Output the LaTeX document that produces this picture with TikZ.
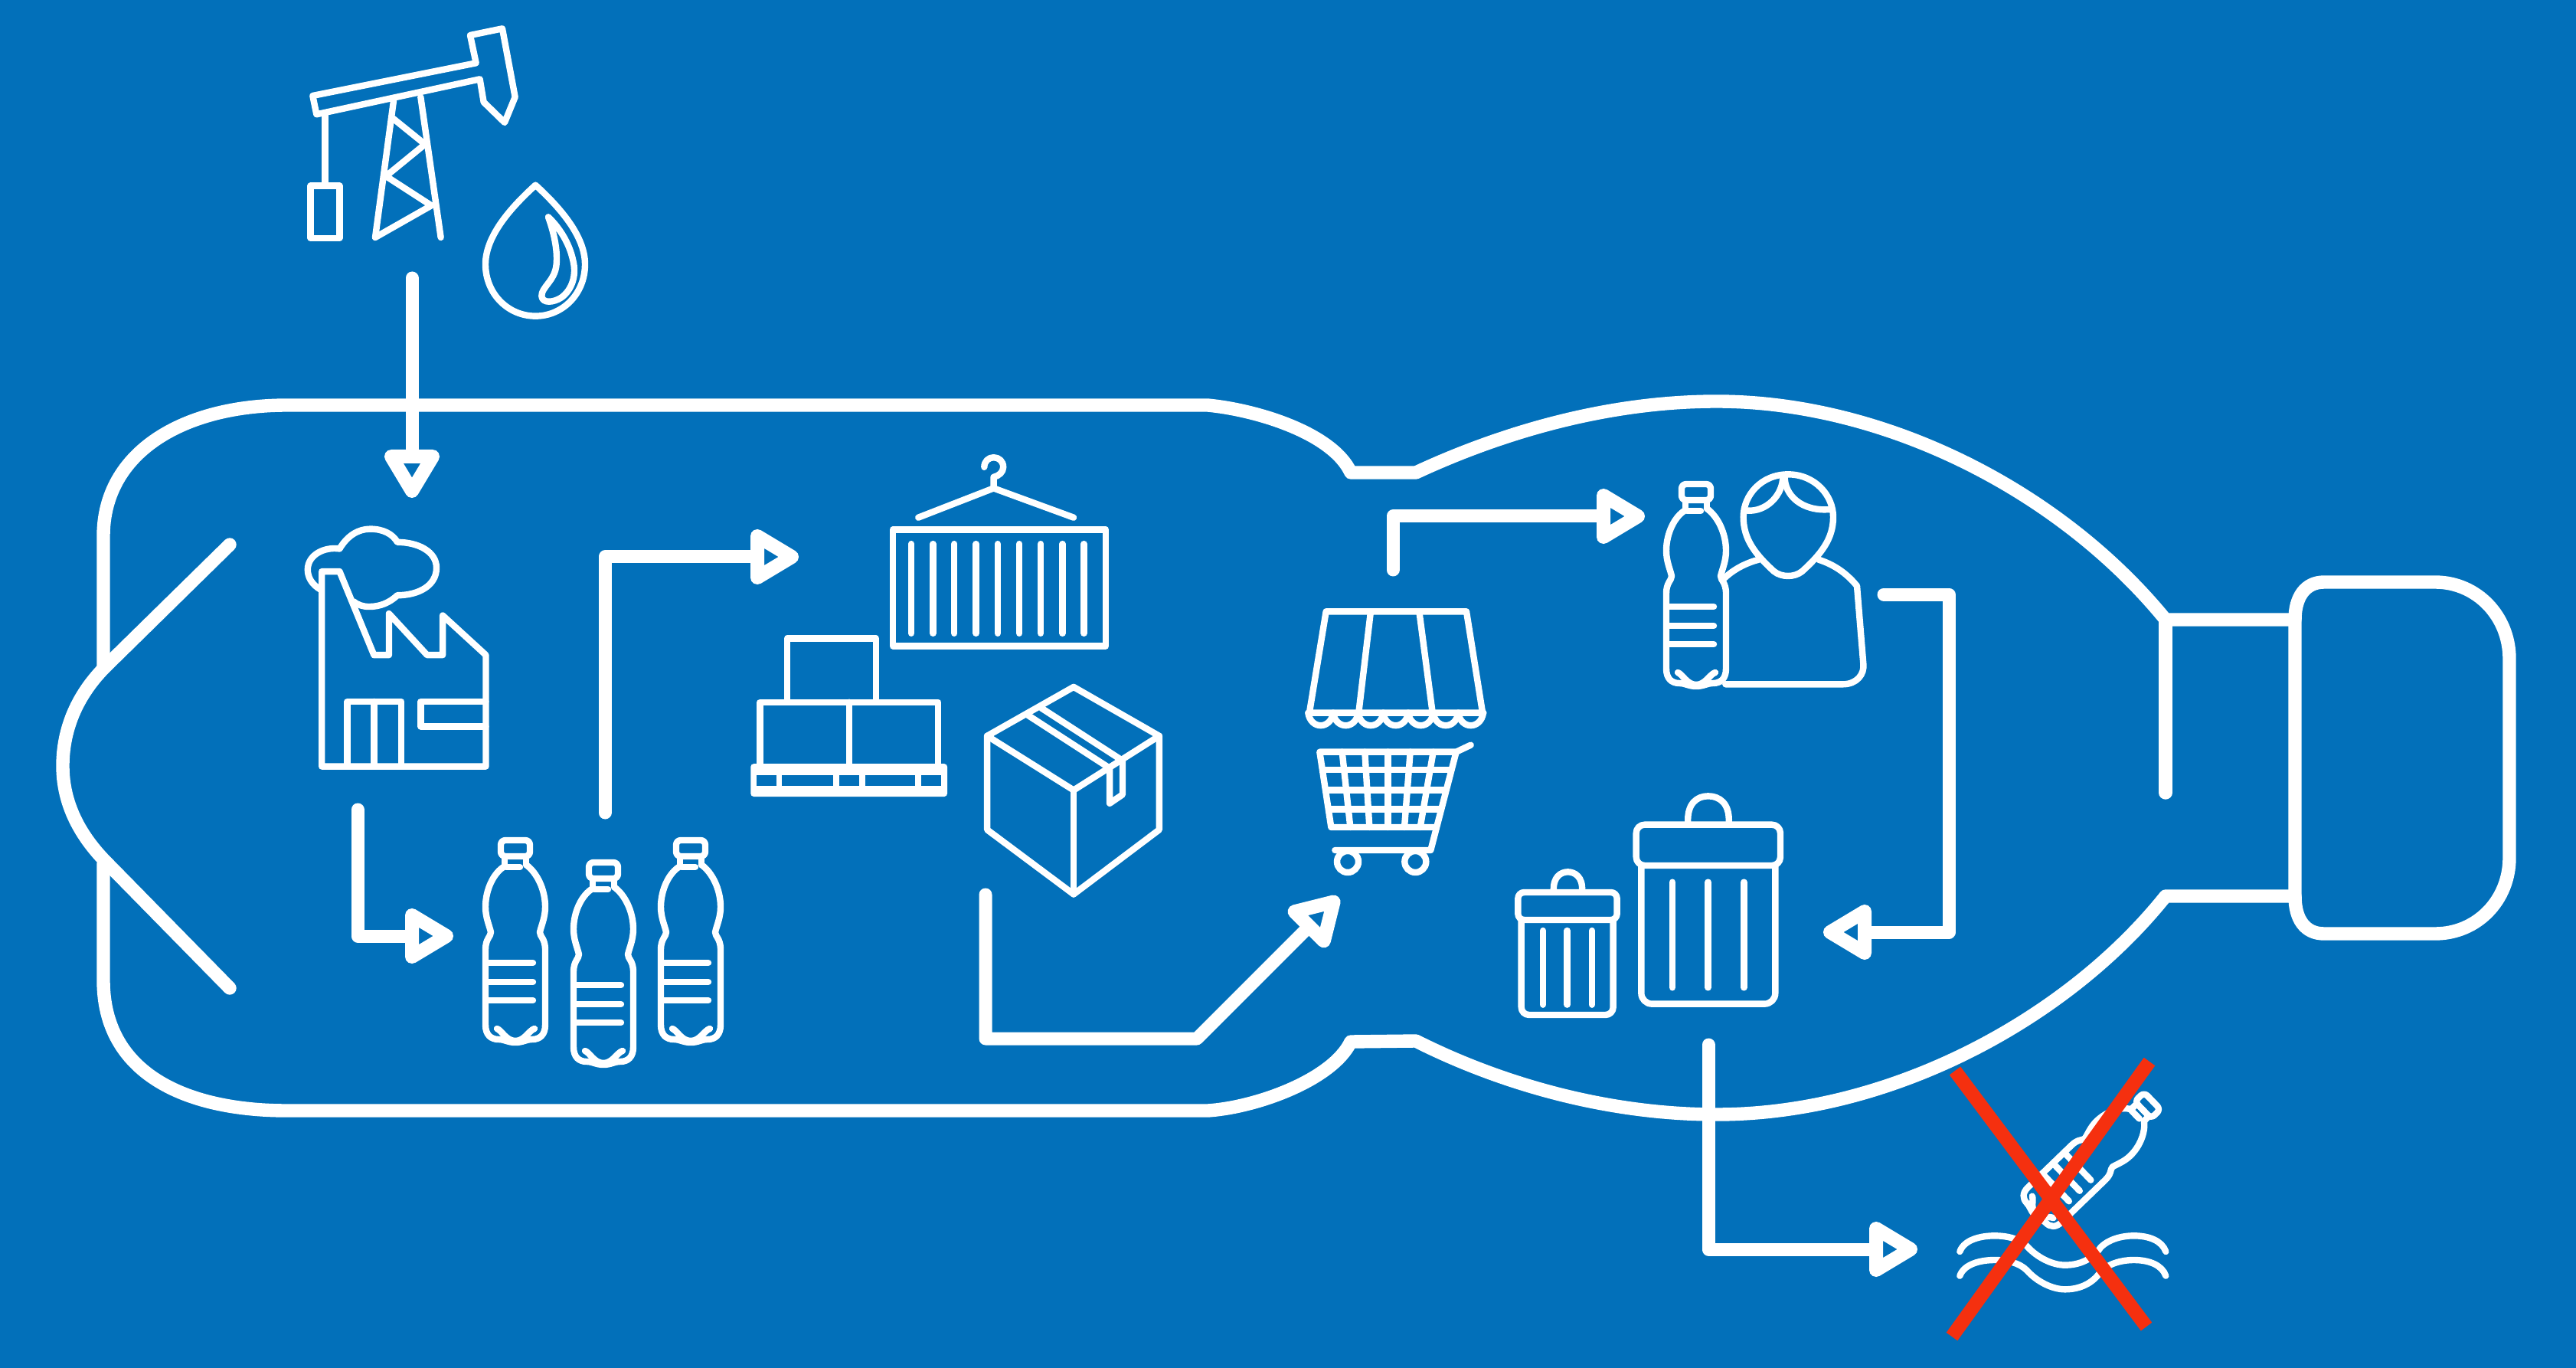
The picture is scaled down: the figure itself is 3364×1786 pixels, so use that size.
\documentclass[tikz,border=0pt]{standalone}
\usetikzlibrary{calc}
\definecolor{bgblue}{RGB}{2,112,186}
\definecolor{xred}{RGB}{245,48,15}
\tikzset{
  x=0.5pt,y=-0.5pt,
  outline/.style={draw=white,line width=8.7pt,line cap=round,line join=round},
  icon/.style={draw=white,line width=4.2pt,line cap=round,line join=round},
  flowline/.style={draw=white,line width=8.5pt,line cap=round,line join=round},
  headline/.style={draw=white,line width=9pt,line cap=round,line join=round},
  aheadtip/.pic={\draw[headline] (1,-27)--(46,0)--(1,27)--cycle;},
  bottleicon/.pic={
    \draw[icon,rounded corners=3pt] (-19,4) rectangle (19,25);
    \draw[icon] (-14,25)--(-14,38) (14,25)--(14,36) (-12,39)--(6,39);
    \draw[icon] (-14,38) .. controls (-28,46) and (-39,68) .. (-39,91)
      .. controls (-39,105) and (-34,115) .. (-32,124)
      .. controls (-32,130) and (-39,132) .. (-39,147) -- (-39,245)
      .. controls (-39,258) and (-32,264) .. (-22,264)
      .. controls (-14,264) and (-10,268) .. (0,268)
      .. controls (10,268) and (14,264) .. (22,264)
      .. controls (32,264) and (39,258) .. (39,245) -- (39,147)
      .. controls (39,132) and (32,130) .. (32,124)
      .. controls (34,115) and (39,105) .. (39,91)
      .. controls (39,68) and (28,46) .. (14,36);
    \draw[icon] (-24,250) .. controls (-18,252) and (-12,266) .. (0,266)
      .. controls (12,266) and (18,252) .. (25,250);
    \draw[icon] (-37,164)--(23,164) (-37,189)--(23,189) (-37,213)--(23,213);
  },
}
\begin{document}
\begin{tikzpicture}
\useasboundingbox (0,0) rectangle (3364,1786);
\fill[bgblue] (0,0) rectangle (3364,1786);

\coordinate (xa1) at (2553,1398);
\coordinate (xa2) at (2803,1732);
\coordinate (xb1) at (2807,1386);
\coordinate (xb2) at (2549,1745);

% bottle outline
\draw[outline] (135,869) -- (135,700) .. controls (135,590) and (240,529) .. (375,529)
  -- (1577,529) .. controls (1640,535) and (1740,565) .. (1764,617) -- (1849,617)
  .. controls (1950,570) and (2090,524) .. (2242,524)
  .. controls (2460,524) and (2690,640) .. (2828,809) -- (2997,809);
\draw[outline] (2997,1170) -- (2828,1170) .. controls (2700,1330) and (2470,1455) .. (2242,1455)
  .. controls (2090,1455) and (1950,1410) .. (1849,1359) -- (1764,1360)
  .. controls (1740,1410) and (1640,1446) .. (1577,1450) -- (375,1450)
  .. controls (240,1450) and (135,1400) .. (135,1280) -- (135,1128);
\draw[outline] (300,711) -- (140,868) .. controls (102,905) and (82,950) .. (82,1000)
  .. controls (82,1050) and (105,1092) .. (140,1127) -- (300,1290);
\draw[outline] (2828,809) -- (2828,1035);
\draw[outline] (3035,760) -- (3180,760) .. controls (3235,760) and (3277,805) .. (3277,860)
  -- (3277,1120) .. controls (3277,1175) and (3235,1219) .. (3180,1219) -- (3035,1219)
  .. controls (3010,1219) and (2997,1200) .. (2997,1170) -- (2997,809)
  .. controls (2997,780) and (3010,760) .. (3035,760) -- cycle;

% pump
\begin{scope}[shift={(360,20)},xscale=1/3,yscale=1/3]
\draw[icon] (145,315)--(785,187)--(762,78)--(888,52)--(938,320)--(897,420)--(815,340)--(800,250)--(160,388)--cycle;
\draw[icon] (193,390)--(193,668) (137,668) rectangle (250,873);
\draw[icon] (462,335)--(390,870)--(610,745)--(432,630)--(585,505)--(455,400);
\draw[icon] (568,320)--(647,870);
\draw[icon] (1018,665) .. controls (930,745) and (822,860) .. (822,975) .. controls (822,1090) and (910,1178) .. (1018,1178)
  .. controls (1125,1178) and (1212,1090) .. (1212,975) .. controls (1212,860) and (1105,745) .. (1018,665) -- cycle;
\draw[icon] (1068,790) .. controls (1090,850) and (1105,920) .. (1100,975) .. controls (1095,1040) and (1040,1065) .. (1042,1100)
  .. controls (1045,1130) and (1090,1125) .. (1120,1105) .. controls (1160,1075) and (1180,1020) .. (1165,960)
  .. controls (1150,890) and (1110,830) .. (1068,790) -- cycle;
\end{scope}

% factory
\begin{scope}[shift={(370,660)},xscale=1/2.45,yscale=1/2.09]
\draw[icon] (123,712)--(123,180)--(180,180)--(290,408)--(338,408)--(338,295)--(460,408)--(510,408)--(510,300)--(648,408)--(648,712)--cycle;
\draw[icon] (205,712)--(205,535)--(378,535)--(378,712) (290,535)--(290,712);
\draw[icon] (648,535)--(440,535)--(440,603)--(648,603);
\draw[icon] (120,230) .. controls (90,215) and (78,195) .. (78,175) .. controls (78,135) and (130,112) .. (180,118)
  .. controls (205,82) and (240,64) .. (278,64) .. controls (320,64) and (350,78) .. (365,100)
  .. controls (430,100) and (490,125) .. (490,170) .. controls (490,220) and (430,245) .. (365,245)
  .. controls (340,265) and (310,276) .. (275,276) .. controls (255,276) and (240,272) .. (225,262);
\end{scope}

% bottles
\pic at (673,1093) {bottleicon};
\pic at (788,1122) {bottleicon};
\pic at (902,1093) {bottleicon};
\pic at (2215,628) {bottleicon};

% container, pallet, box
\begin{scope}[shift={(960,580)},scale=1/2.613]
\draw[icon] (538,291) rectangle (1265,688);
\foreach \sx in {601,675,748,822,896,970,1043,1117,1190} \draw[icon] (\sx,340)--(\sx,645);
\draw[icon] (625,250)--(882,150)--(1155,250);
\draw[icon] (882,150)--(882,112) .. controls (900,108) and (915,95) .. (915,78) .. controls (915,58) and (900,45) .. (882,45) .. controls (865,45) and (850,58) .. (850,78);
\draw[icon] (178,880)--(178,662)--(480,662)--(480,880);
\draw[icon] (85,1098)--(85,880)--(693,880)--(693,1098) (390,880)--(390,1098);
\fill[white,rounded corners=2pt] (53,1090) rectangle (724,1202);
\foreach \ha/\hb in {72/140,160/335,355/422,444/615,636/704} \fill[bgblue] (\ha,1128) rectangle (\hb,1165);
\draw[icon] (860,995)--(1155,828)--(1447,995)--(1155,1180)--cycle;
\draw[icon] (1155,1180)--(1155,1535);
\draw[icon] (860,995)--(860,1315)--(1155,1535)--(1447,1315)--(1447,995);
\draw[icon] (1000,925)--(1278,1105) (1045,900)--(1320,1078);
\draw[icon] (1278,1105)--(1278,1225)--(1322,1195)--(1322,1078);
\end{scope}

% shop and cart
\begin{scope}[shift={(1680,760)},scale=1/3]
\draw[icon] (90,510)--(155,115)--(705,115)--(768,510);
\draw[icon] (85,512)--(772,512) (330,115)--(283,510) (520,115)--(572,510);
\foreach \sa in {85,183,281,379,477,575,673}
  \draw[icon] (\sa,512) .. controls (\sa+10,578) and (\sa+88,578) .. (\sa+98,512);
\draw[icon] (722,638)--(665,665)--(130,665)--(175,960)--(580,960);
\draw[icon] (665,665)--(565,1050)--(190,1050);
\draw[icon] (142,735)--(645,735) (155,815)--(625,815) (170,890)--(605,890);
\foreach \ta/\tb in {218/250,307/325,397/397,485/462,575/524} \draw[icon] (\ta,665)--(\tb,960);
\draw[icon] (240,1095) circle[radius=42];
\draw[icon] (505,1095) circle[radius=42];
\end{scope}

% person
\begin{scope}[shift={(2140,610)},scale=1/3]
\draw[icon] (585,28) .. controls (480,28) and (410,110) .. (410,195) .. controls (410,280) and (455,340) .. (530,408)
  .. controls (560,432) and (610,432) .. (640,408) .. controls (715,340) and (762,280) .. (762,195)
  .. controls (762,110) and (690,28) .. (585,28) -- cycle;
\draw[icon] (565,35) .. controls (565,110) and (500,175) .. (425,170);
\draw[icon] (572,35) .. controls (570,110) and (640,175) .. (750,165);
\draw[icon] (330,440) .. controls (370,400) and (420,375) .. (470,362);
\draw[icon] (705,362) .. controls (760,380) and (810,410) .. (855,465) -- (880,770) .. controls (885,810) and (855,850) .. (800,850) -- (340,850);
\end{scope}

% bins
\begin{scope}[shift={(1960,1020)},scale=1/3]
\draw[icon,rounded corners=5.5pt] (530,170) rectangle (1095,330);
\draw[icon] (733,165) .. controls (728,85) and (770,58) .. (812,58) .. controls (855,58) and (898,85) .. (893,165);
\draw[icon,rounded corners=7pt] (550,330)--(550,872)--(1075,872)--(1075,330);
\foreach \sx in {672,812,952} \draw[icon] (\sx,395)--(\sx,808);
\draw[icon,rounded corners=4pt] (67,435) rectangle (455,543);
\draw[icon] (207,430) .. controls (203,375) and (235,355) .. (262,355) .. controls (290,355) and (322,375) .. (318,430);
\draw[icon,rounded corners=5pt] (80,543)--(80,915)--(440,915)--(440,543);
\foreach \sx in {165,260,357} \draw[icon] (\sx,585)--(\sx,875);
\end{scope}

% waves and floating bottle
\begin{scope}[shift={(2520,1370)},scale=1/3]
\foreach \wy in {0,95}
\draw[icon] (118,792+\wy) .. controls (135,745+\wy) and (200,730+\wy) .. (255,730+\wy) .. controls (300,730+\wy) and (350,740+\wy) .. (380,770+\wy)
  .. controls (420,815+\wy) and (480,845+\wy) .. (530,845+\wy) .. controls (590,845+\wy) and (640,820+\wy) .. (670,775+\wy)
  .. controls (700,745+\wy) and (750,730+\wy) .. (800,730+\wy) .. controls (860,730+\wy) and (910,750+\wy) .. (925,792+\wy);
\end{scope}
\pic[rotate=-46,scale=0.81] at (2813,1435) {bottleicon};

% red cross
\draw[xred,line width=9pt] (xa1)--(xa2);
\draw[xred,line width=9pt] (xb1)--(xb2);

% connectors
\coordinate (a1s) at (538,363); \coordinate (a1e) at (538,595);
\draw[flowline] (a1s)--(a1e); \pic[rotate=-90] at (a1e) {aheadtip};
\coordinate (a2s) at (467,1057); \coordinate (a2c) at (467,1222); \coordinate (a2e) at (537,1222);
\draw[flowline] (a2s)--(a2c)--(a2e); \pic at (a2e) {aheadtip};
\coordinate (a3s) at (790,1061); \coordinate (a3c) at (790,727); \coordinate (a3e) at (988,727);
\draw[flowline] (a3s)--(a3c)--(a3e); \pic at (a3e) {aheadtip};
\coordinate (a4s) at (1287,1168); \coordinate (a4c) at (1287,1356); \coordinate (a4d) at (1563,1356); \coordinate (a4e) at (1709,1210);
\draw[flowline] (a4s)--(a4c)--(a4d)--(a4e); \pic[rotate=45] at (a4e) {aheadtip};
\coordinate (a5s) at (1819,744); \coordinate (a5c) at (1819,674); \coordinate (a5e) at (2093,674);
\draw[flowline] (a5s)--(a5c)--(a5e); \pic at (a5e) {aheadtip};
\coordinate (a6s) at (2460,776); \coordinate (a6c) at (2545,776); \coordinate (a6d) at (2545,1217); \coordinate (a6e) at (2436,1217);
\draw[flowline] (a6s)--(a6c)--(a6d)--(a6e); \pic[rotate=180] at (a6e) {aheadtip};
\coordinate (a7s) at (2231,1364); \coordinate (a7c) at (2231,1631); \coordinate (a7e) at (2449,1631);
\draw[flowline] (a7s)--(a7c)--(a7e); \pic at (a7e) {aheadtip};
\end{tikzpicture}
\end{document}
